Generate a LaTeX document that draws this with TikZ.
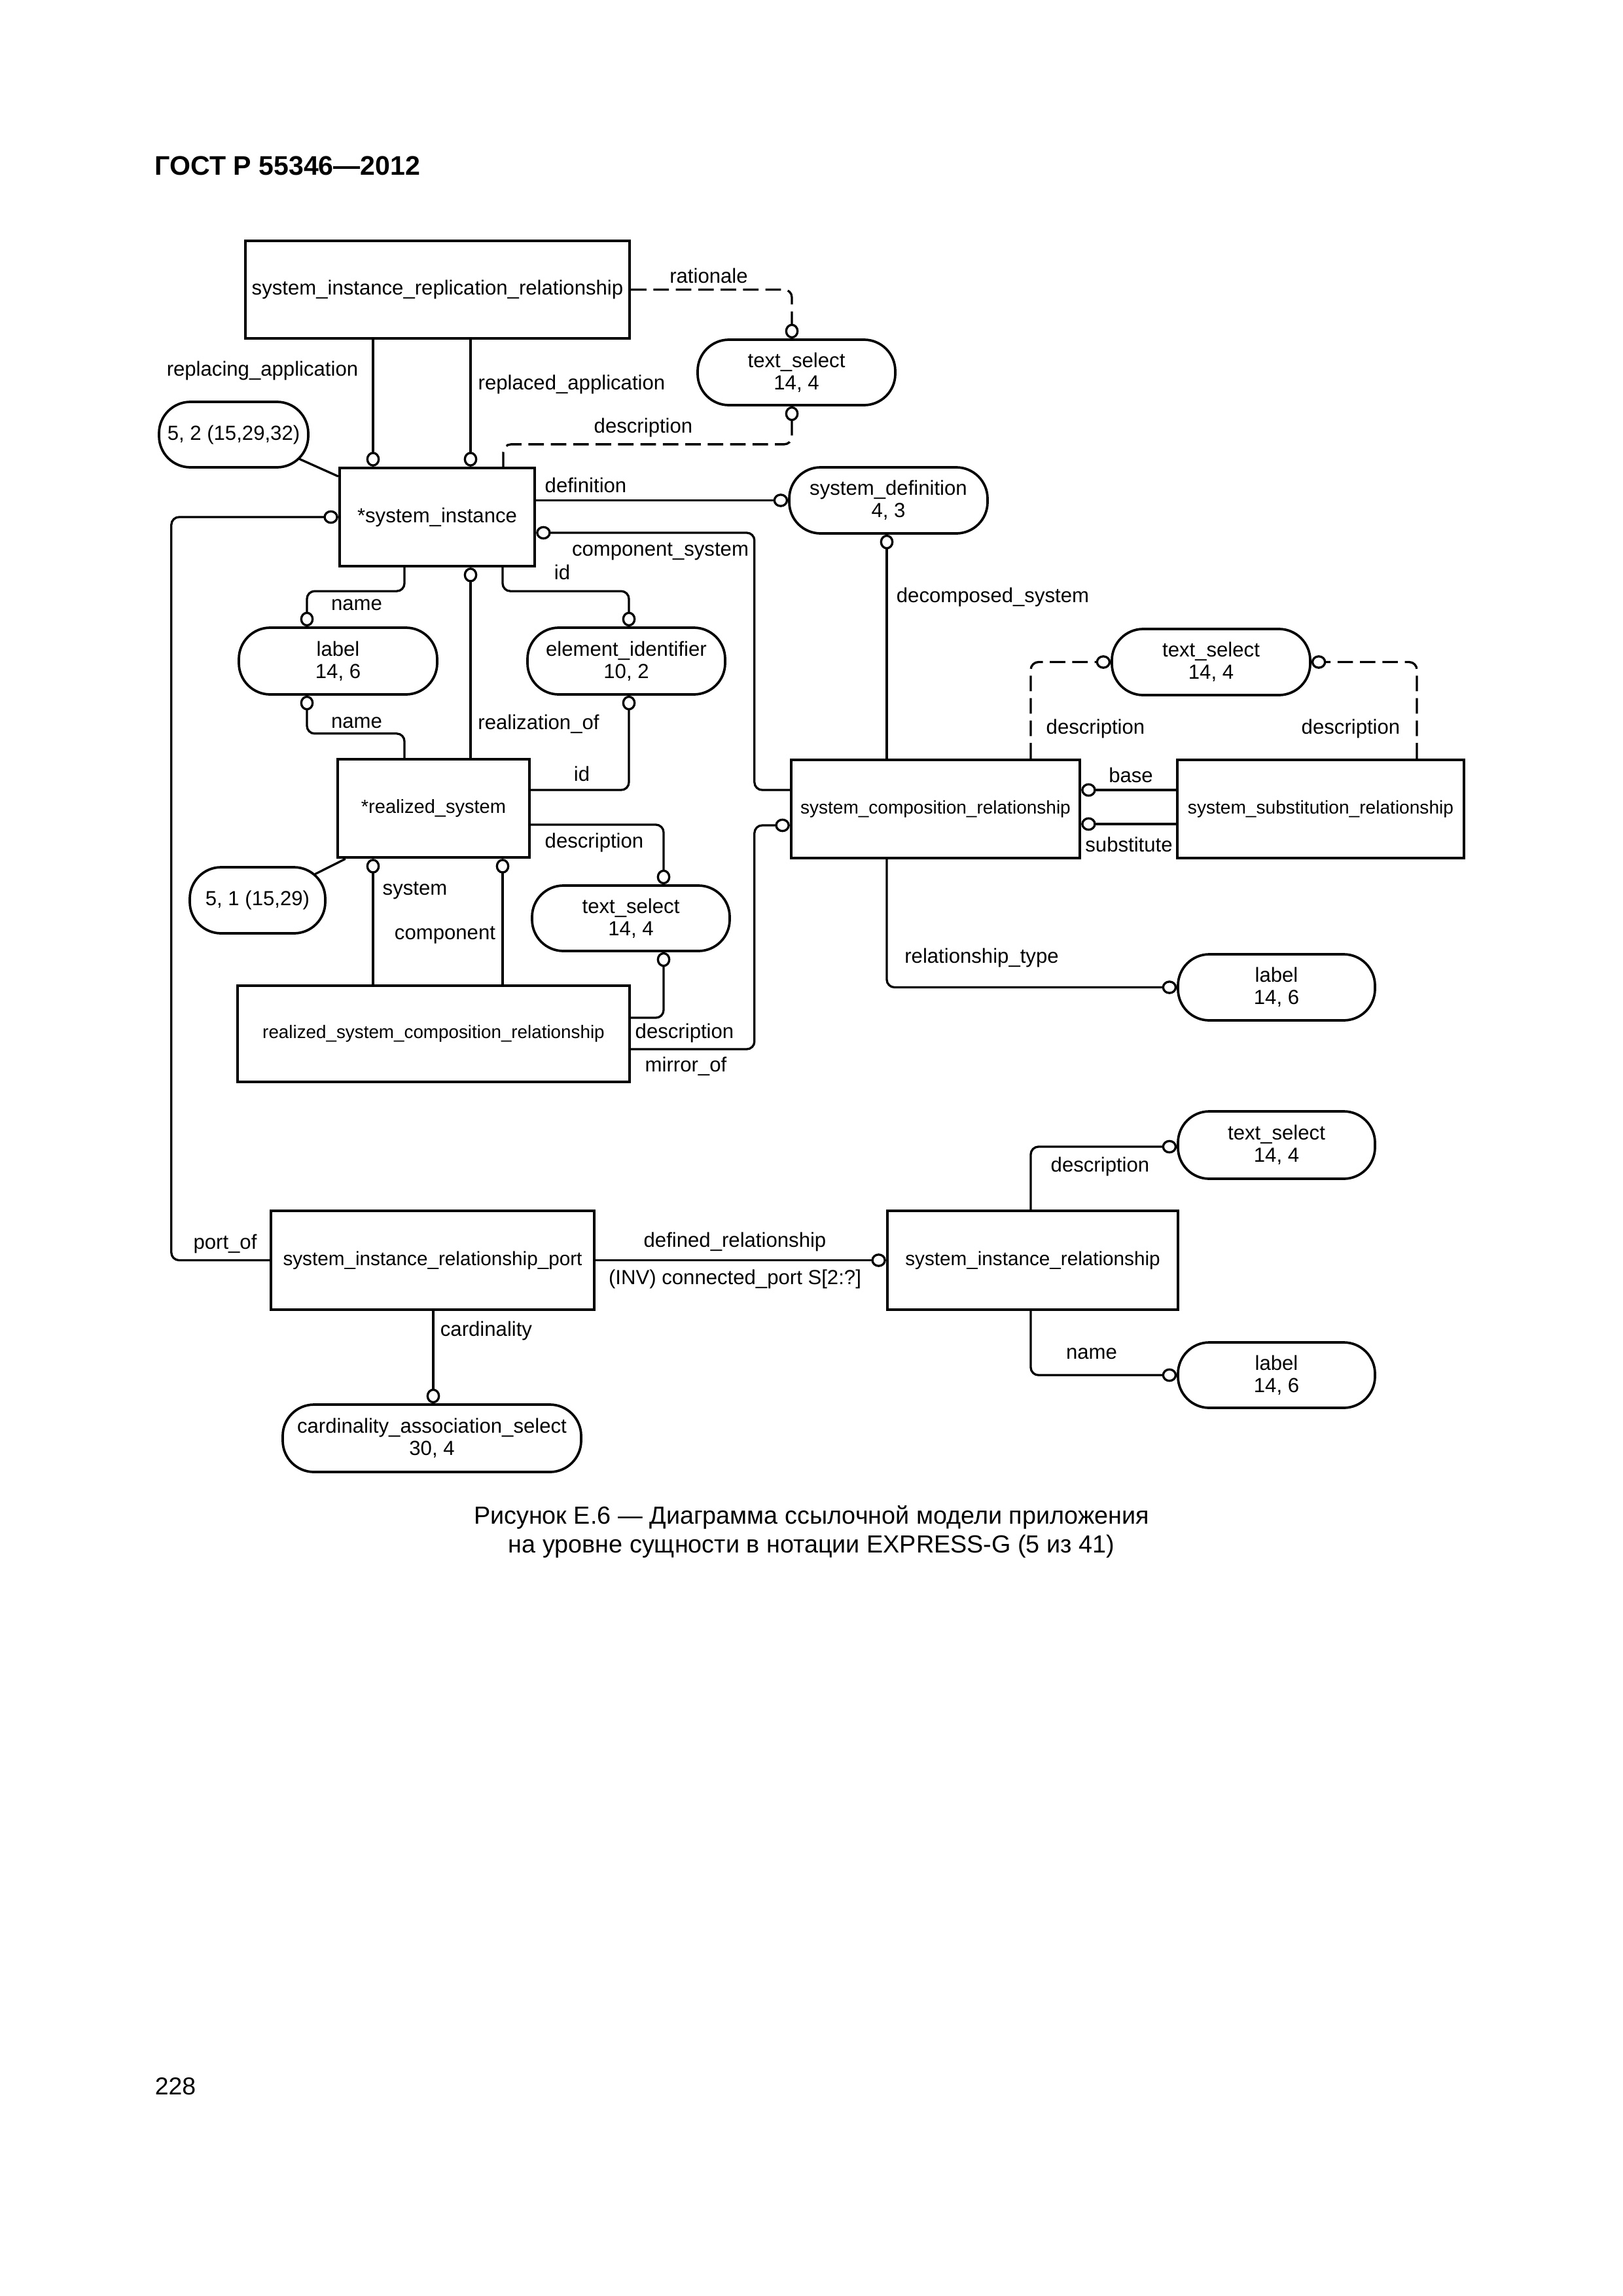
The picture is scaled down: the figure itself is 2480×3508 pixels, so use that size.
\documentclass[tikz,border=0pt]{standalone}
\usepackage{fontspec}
\setmainfont{Liberation Sans}
\usetikzlibrary{arrows.meta,calc}
\def\pxu{0.0846774mm}
\tikzset{
  oc/.tip={Circle[open,length=1.9mm,width=1.75mm]},
  ent/.style n args={3}{draw, line width=1.05pt, inner sep=0pt, align=center,
    minimum width=#1*\pxu, minimum height=#2*\pxu, font=\fontsize{#3}{8.2}\selectfont},
  pill/.style 2 args={draw, line width=0.9pt, rounded corners=4.05mm, inner sep=0pt, align=center,
    minimum width=#1*\pxu, minimum height=#2*\pxu, font=\fontsize{7.5}{8.2}\selectfont},
  conn/.style={line width=0.8pt, rounded corners=1mm},
  dconn/.style={conn, dash pattern=on 2mm off 0.9mm},
  lbl/.style={anchor=base, inner sep=0pt, font=\fontsize{7.5}{8.2}\selectfont},
}
\begin{document}
\begin{tikzpicture}[x=0.0846774mm,y=-0.0846774mm]
\useasboundingbox (0,0) rectangle (2480,3508);
\fill[white] (0,0) rectangle (2480,3508);

% header, caption, page number
\node[anchor=base west, inner sep=0pt, font=\fontsize{9.9}{12}\selectfont\bfseries] (hdr) at (236,267) {ГОСТ Р 55346—2012};
\node[anchor=base, inner sep=0pt, font=\fontsize{9.1}{11}\selectfont] (cap1) at (1240,2328) {Рисунок Е.6 — Диаграмма ссылочной модели приложения};
\node[anchor=base, inner sep=0pt, font=\fontsize{9.1}{11}\selectfont] (cap2) at (1240,2372) {на уровне сущности в нотации EXPRESS-G (5 из 41)};
\node[anchor=base west, inner sep=0pt, font=\fontsize{9}{11}\selectfont] (pg) at (236,3200) {228};

% entities
\node[ent={587}{149}{7.5}] (SIRR) at (668.5,442.5) {system\_instance\_replication\_relationship};
\node[ent={298}{150}{7.5}] (SI) at (668,790) {*system\_instance};
\node[ent={293}{150}{7.0}] (RS) at (662.5,1235) {*realized\_system};
\node[ent={599}{147}{6.7}] (RSCR) at (662.5,1579.5) {realized\_system\_composition\_relationship};
\node[ent={441}{150}{6.75}] (SCR) at (1429.5,1236) {system\_composition\_relationship};
\node[ent={438}{150}{6.77}] (SSR) at (2018,1236) {system\_substitution\_relationship};
\node[ent={494}{151}{7.15}] (SIRP) at (661,1925.5) {system\_instance\_relationship\_port};
\node[ent={444}{151}{7.15}] (SIR) at (1578,1925.5) {system\_instance\_relationship};

% pills
\node[pill={302}{100}] (TS1) at (1217,569) {text\_select\\14, 4};
\node[pill={228}{100}] (P52) at (357,664) {5, 2 (15,29,32)};
\node[pill={303}{101}] (SD) at (1357.5,764.5) {system\_definition\\4, 3};
\node[pill={303}{102}] (LBL1) at (516.5,1010) {label\\14, 6};
\node[pill={302}{102}] (EID) at (957,1010) {element\_identifier\\10, 2};
\node[pill={303}{101}] (TS2) at (1850.5,1011.5) {text\_select\\14, 4};
\node[pill={207}{101}] (P51) at (393.5,1375.5) {5, 1 (15,29)};
\node[pill={302}{100}] (TS3) at (964,1403) {text\_select\\14, 4};
\node[pill={301}{101}] (LBL2) at (1950.5,1508.5) {label\\14, 6};
\node[pill={301}{103}] (TS4) at (1950.5,1749.5) {text\_select\\14, 4};
\node[pill={301}{100}] (LBL3) at (1950.5,2101) {label\\14, 6};
\node[pill={456}{103}] (CAS) at (660,2197.5) {cardinality\_association\_select\\30, 4};

% connectors
\draw[dconn,-oc] (SIRR.east) -| ($(TS1.north)+(-7,0)$);
\draw[dconn,oc-] ($(TS1.south)+(-7,0)$) -- ($(TS1.south)+(-7,58)$) -| ($(SI.north)+(101,0)$);
\draw[conn,-oc] ($(SIRR.south)+(-98.5,0)$) -- ($(SI.north)+(-98,0)$);
\draw[conn,-oc] ($(SIRR.south)+(50.5,0)$) -- ($(SI.north)+(51,0)$);
\draw[conn] ($(P52.center)+(100,37)$) -- ($(SI.north west)+(0,15)$);
\draw[conn,-oc] (SIRP.west) -- ++(-150,0) |- (SI.west);
\draw[conn,-oc] (SI.east |- SD.west) -- (SD.west);
\draw[conn,oc-] ($(SI.east)+(0,24)$) -| ($(SCR.west)+(-54,-29)$) -- ($(SCR.west)+(0,-29)$);
\draw[conn,-oc] ($(SI.south)+(-50,0)$) -- ++(0,36) -| ($(LBL1.north)+(-47.5,0)$);
\draw[conn,-oc] ($(RS.north)+(56.5,0)$) -- ($(SI.south)+(51,0)$);
\draw[conn,-oc] ($(SI.south)+(100,0)$) -- ++(0,36) -| ($(EID.north)+(4,0)$);
\draw[conn,-oc] ($(RS.north)+(-44.5,0)$) -- ++(0,-37) -| ($(LBL1.south)+(-47.5,0)$);
\draw[conn,-oc] ($(RS.east)+(0,-28)$) -| ($(EID.south)+(4,0)$);
\draw[conn,-oc] ($(RS.east)+(0,25)$) -| ($(TS3.north)+(50,0)$);
\draw[conn] ($(P51.center)+(88,-40)$) -- ($(RS.south west)+(14,0)$);
\draw[conn,-oc] ($(RSCR.north)+(-92.5,0)$) -- ($(RS.south)+(-92.5,0)$);
\draw[conn,-oc] ($(RSCR.north)+(105.5,0)$) -- ($(RS.south)+(105.5,0)$);
\draw[conn,-oc] ($(RSCR.east)+(0,-24.5)$) -| ($(TS3.south)+(50,0)$);
\draw[conn,-oc] ($(RSCR.east)+(0,23.5)$) -| ($(SCR.west)+(-54,25)$) -- ($(SCR.west)+(0,25)$);
\draw[conn,-oc] ($(SCR.north)+(-74.5,0)$) -- ($(SD.south)+(-2.5,0)$);
\draw[dconn,-oc] ($(SCR.north)+(145.5,0)$) |- (TS2.west);
\draw[dconn,-oc] ($(SSR.north)+(147,0)$) |- (TS2.east);
\draw[conn,oc-] ($(SCR.east)+(0,-29)$) -- ($(SSR.west)+(0,-29)$);
\draw[conn,oc-] ($(SCR.east)+(0,23)$) -- ($(SSR.west)+(0,23)$);
\draw[conn,-oc] ($(SCR.south)+(-74.5,0)$) |- (LBL2.west);
\draw[conn,-oc] (SIRP.east) -- (SIR.west);
\draw[conn,-oc] ($(SIRP.south)+(1,0)$) -- ($(CAS.north)+(2,0)$);
\draw[conn,-oc] ($(SIR.north)+(-3,0)$) |- ($(TS4.west)+(0,2.5)$);
\draw[conn,-oc] ($(SIR.south)+(-3,0)$) |- (LBL3.west);

% connector labels
\node[lbl] (l1) at (1083,432) {rationale};
\node[lbl] (l2) at (401,574) {replacing\_application};
\node[lbl] (l3) at (873.5,595) {replaced\_application};
\node[lbl] (l4) at (983,661) {description};
\node[lbl] (l5) at (895,752.5) {definition};
\node[lbl] (l6) at (1009,849) {component\_system};
\node[lbl] (l7) at (859,885) {id};
\node[lbl] (l8) at (545,932) {name};
\node[lbl] (l9) at (545,1112) {name};
\node[lbl] (l10) at (823,1114) {realization\_of};
\node[lbl] (l11) at (889,1193.5) {id};
\node[lbl] (l12) at (908,1295) {description};
\node[lbl] (l13) at (634,1367.5) {system};
\node[lbl] (l14) at (680,1435) {component};
\node[lbl] (l15) at (1046,1586.5) {description};
\node[lbl] (l16) at (1048,1637) {mirror\_of};
\node[lbl] (l17) at (1517,920) {decomposed\_system};
\node[lbl] (l18) at (1674,1121) {description};
\node[lbl] (l19) at (2064,1121) {description};
\node[lbl] (l20) at (1728,1195.5) {base};
\node[lbl] (l21) at (1725,1301) {substitute};
\node[lbl] (l22) at (1500,1471) {relationship\_type};
\node[lbl] (l23) at (344,1908) {port\_of};
\node[lbl] (l24) at (1123,1905) {defined\_relationship};
\node[lbl] (l25) at (1123,1962) {(INV) connected\_port S[2:?]};
\node[lbl] (l26) at (743,2041) {cardinality};
\node[lbl] (l27) at (1681,1790) {description};
\node[lbl] (l28) at (1668,2076.5) {name};
\end{tikzpicture}
\end{document}
